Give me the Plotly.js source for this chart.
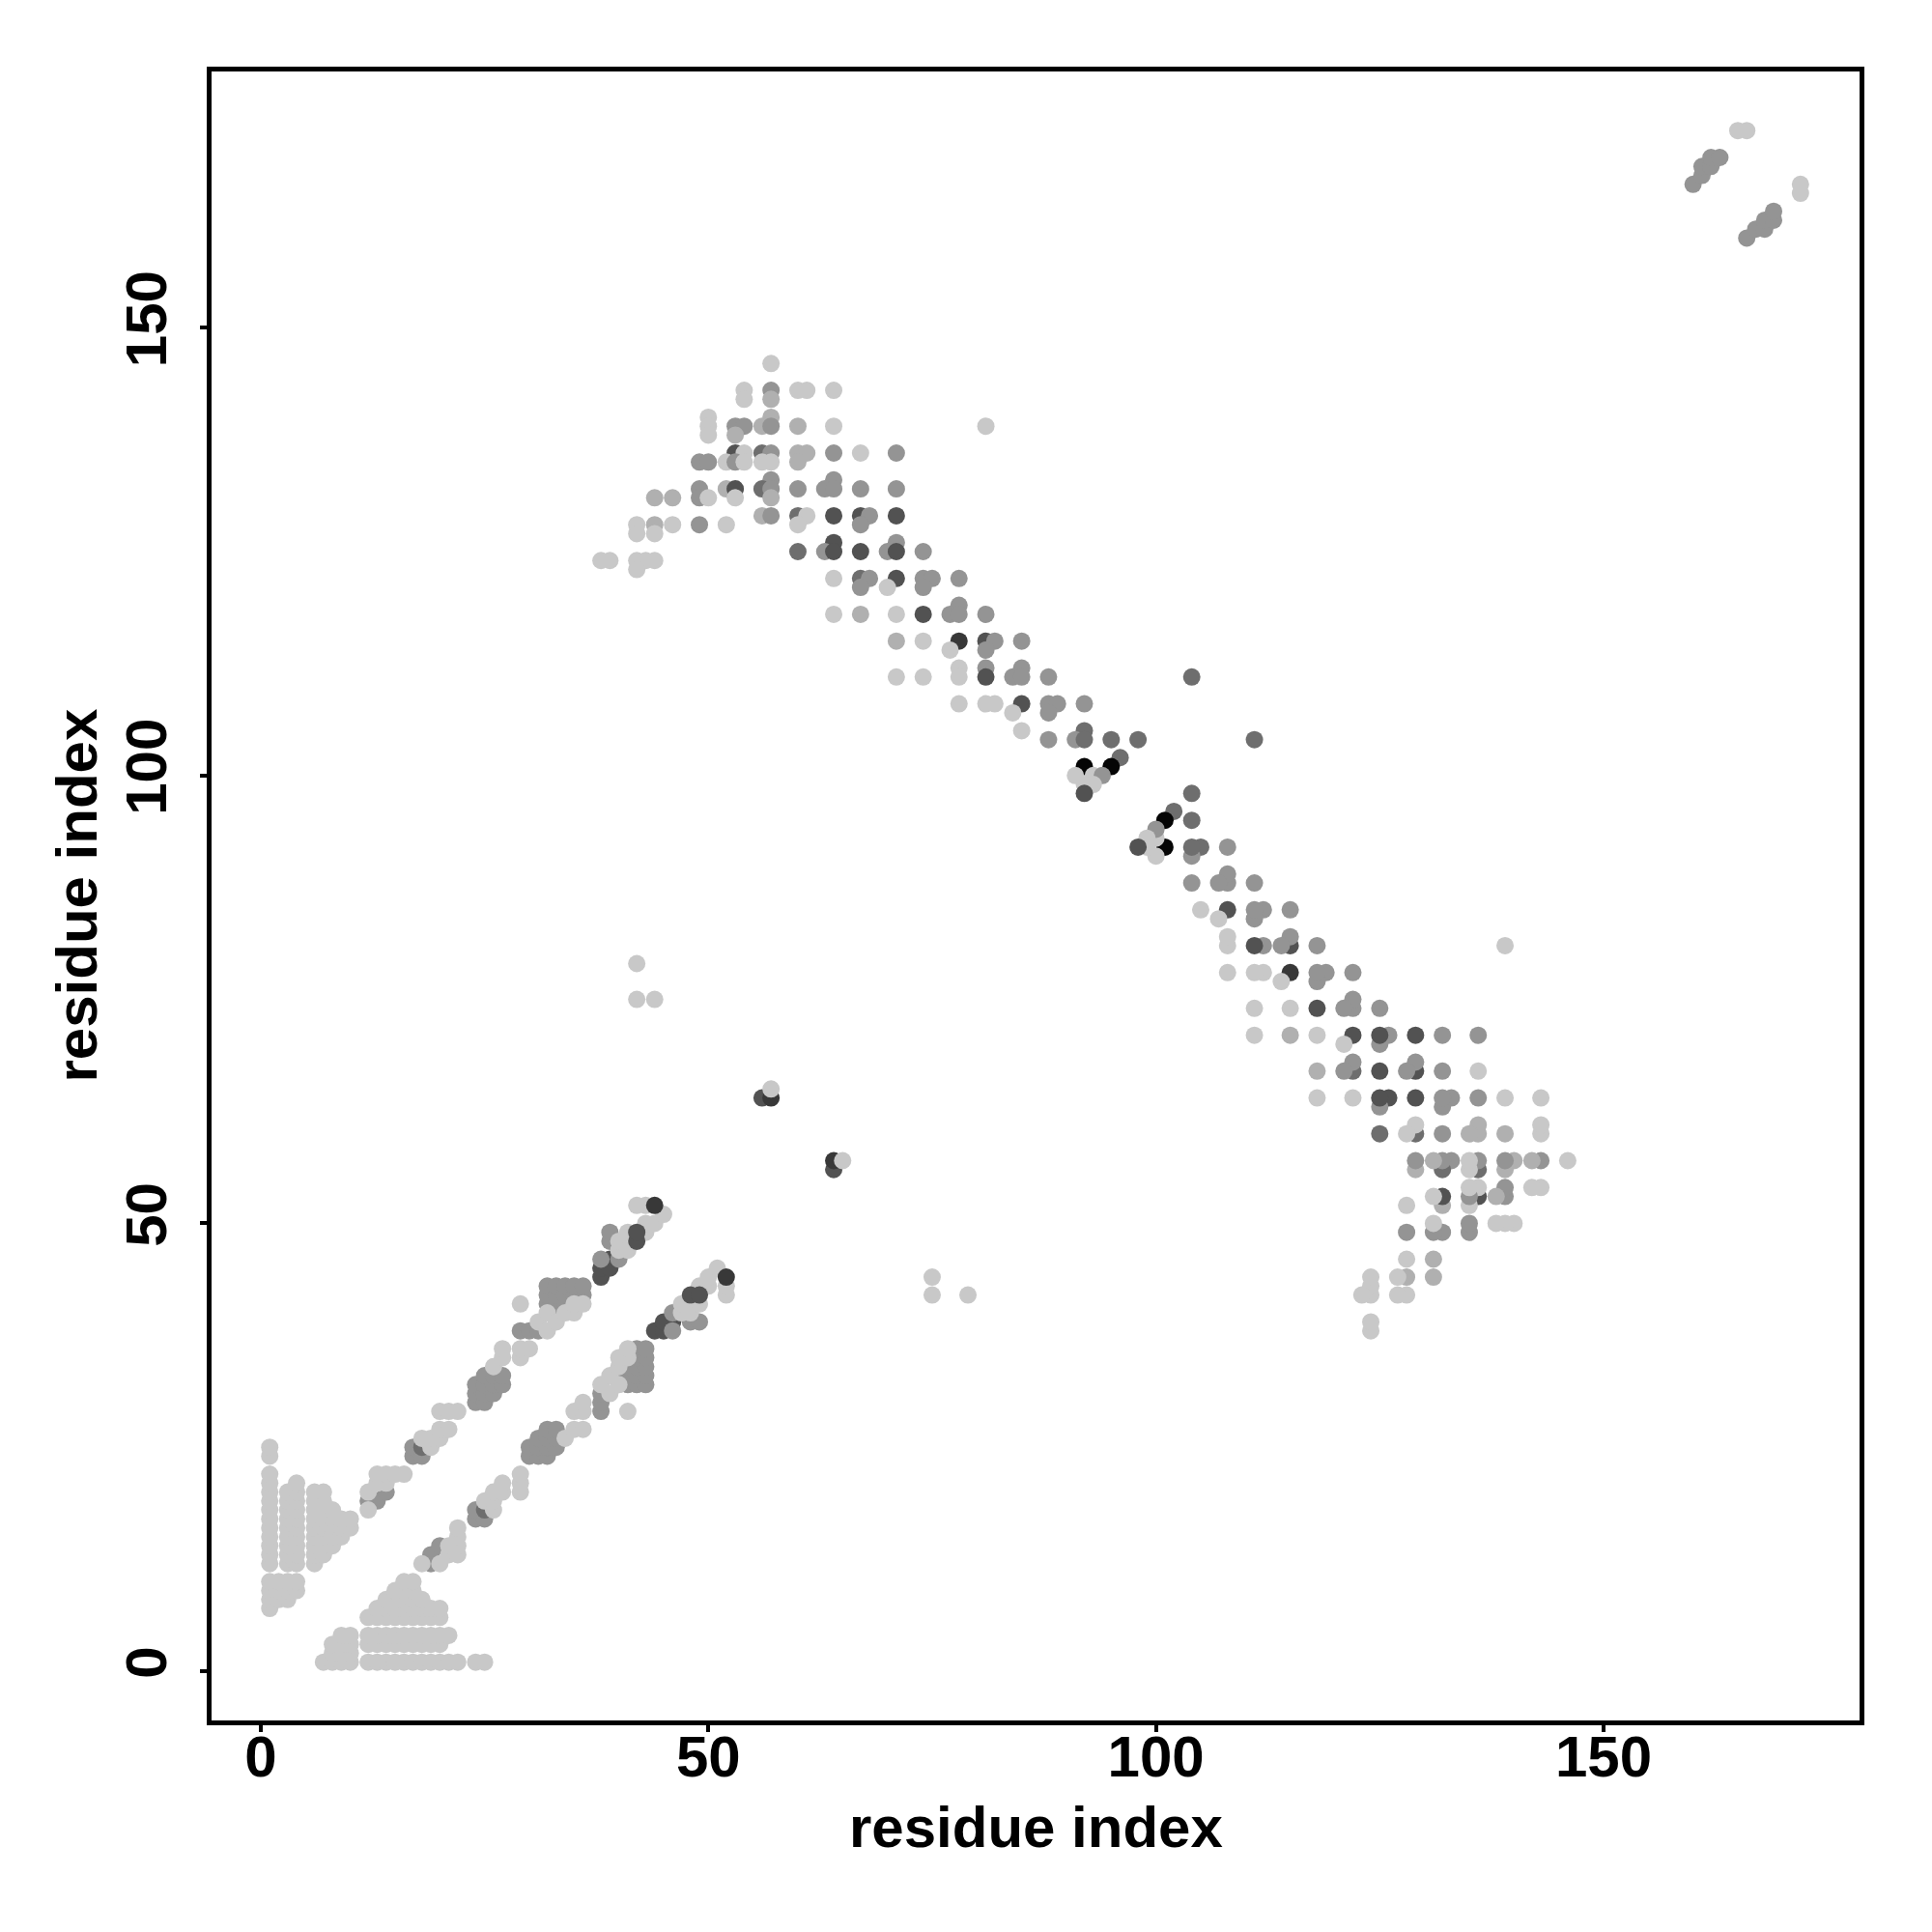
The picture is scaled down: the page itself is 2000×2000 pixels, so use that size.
<!DOCTYPE html>
<html>
<head>
<meta charset="utf-8">
<script src="https://cdn.plot.ly/plotly-3.0.1.min.js"></script>
<style>html,body{margin:0;padding:0;background:#fff;}</style>
</head>
<body>
<div id="chart" style="width:2000px;height:2000px;"></div>
<script>
// Contact map: each contact (i, j) with i < j, and its grey level (1 = faint ... 7 = strongest).
// The map is symmetric, so every contact is also drawn at (j, i).

// Light triangular cluster near the N-terminus
const blobI = [1,1,1,1,1,1,1,1,1,1,1,1,1,1,1,1,1, 2,2,2,
  3,3,3,3,3,3,3,3,3,3,3,3, 4,4,4,4,4,4,4,4,4,4,4,4,
  6,6,6,6,6,6,6,6,6, 7,7,7,7,7,7,7,7, 8,8,8,8,8, 9,9,9, 10,10];
const blobJ = [7,8,9,10,12,13,14,15,16,17,18,19,20,21,22,24,25, 8,9,10,
  8,9,10,12,13,14,15,16,17,18,19,20, 9,10,12,13,14,15,16,17,18,19,20,21,
  12,13,14,15,16,17,18,19,20, 13,14,15,16,17,18,19,20, 14,15,16,17,18, 15,16,17, 16,17];
const blobLevel = [1,1,1,1,1,1,1,1,1,1,1,1,1,1,1,1,1, 1,1,1,
  1,1,1,1,1,1,1,1,1,1,1,1, 1,1,1,1,1,1,1,1,1,1,1,1,
  1,1,1,1,1,1,1,1,1, 1,1,1,1,1,1,1,1, 1,1,1,1,1, 1,1,1, 1,1];

// Band running parallel to the diagonal (i, i+7)
const bandI = [12,13,14, 12,12,13,14,13,14,15,16, 17,17,18,18, 18,19,19,20,20,21, 20,21,22,
  24,24,24,25,25,25,25,26,26,26,27,27, 26,27,27,29,29,30, 29,30,31, 29,31,32,
  32,32,32,33,33,33,33,34,34,34,35,35,36,36, 32,33,34,35,35,36,
  38,38,39,39, 38,40,39,39, 40,40,41,41,43,43,44,45,42,43, 42,42, 44];
const bandJ = [19,19,20, 18,20,21,21,22,22,22,22, 24,25,24,25, 26,25,26,26,27,27, 29,29,29,
  30,31,32,30,31,32,33,31,32,33,32,33, 34,35,36,35,36,36, 38,38,38, 41,39,38,
  41,42,43,40,41,42,43,41,42,43,42,43,42,43, 40,39,40,40,41,41,
  44,45,46,45, 46,46,48,49, 47,48,47,49,49,50,50,51,52,52, 48,49, 52];
const bandLevel = [3,3,3, 1,1,1,1,1,1,1,1, 3,3,3,4, 1,1,1,1,1,1, 1,1,1,
  3,3,3,3,3,3,3,3,3,3,3,3, 1,1,1,1,1,1, 3,3,3, 1,1,1,
  3,3,3,3,3,3,3,3,3,3,3,3,3,3, 1,1,1,1,1,1,
  5,5,5,5, 3,3,3,3, 1,1,1,1,1,1,1,1,1,1, 5,5, 6];

// Antiparallel band (rows of j, from top to bottom)
const antiI = [57,
  54,57,60,61,64, 54,57, 50,57,
  50,53,54,56,57,60,64, 50,53,
  53,54,56,57,60,61,64,67,71,
  49,50,52,53,54,56,57,60, 57,64,
  49,52,53,56,57,60,63,64,67,71,
  44,46,49,50,53,57,
  56,57,60,61,64,67,68,71,
  42,44,46,49,52,60,67, 42,44, 64,71,
  60,63,64,67,70,71,74,
  38,39,42,43,44, 42,
  64,67,68,71,74,75,78, 67,70,74, 78,
  64,67,71,74,77,78,81,
  71,74,78,81,82,85, 77,81, 78,81,85,
  71,74,78,81,84,85,88,
  78,81,82,85,88,89,92, 84,88, 85,92,
  88,91,92,95,98, 96, 92,95, 91,93,94, 92,93, 92];
const antiJ = [146,
  143,143,143,143,143, 142,142, 140,140,
  139,139,139,139,139,139,139, 138,138,
  136,136,136,136,136,136,136,136,136,
  135,135,135,135,135,135,135,135, 133,133,
  132,132,132,132,132,132,132,132,132,132,
  131,131,131,131,131,131,
  129,129,129,129,129,129,129,129,
  128,128,128,128,128,128,128, 127,127, 126,126,
  125,125,125,125,125,125,125,
  124,124,124,124,124, 123,
  122,122,122,122,122,122,122, 121,121,121, 119,
  118,118,118,118,118,118,118,
  115,115,115,115,115,115, 114,114, 112,112,112,
  111,111,111,111,111,111,111,
  108,108,108,108,108,108,108, 107,107, 105,105,
  104,104,104,104,104, 102, 101,101, 100,100,100, 99,99, 98];
const antiLevel = [1,
  1,3,1,1,1, 1,2, 1,2,
  1,3,3,2,3,2,1, 1,2,
  5,1,4,3,2,2,3,1,3,
  3,3,1,3,1,1,1,2, 3,3,
  3,2,5,4,3,3,3,3,3,3,
  2,2,3,1,1,2,
  2,3,4,1,5,5,3,5,
  1,2,1,3,1,1,3, 1,1, 5,3,
  4,3,5,5,3,5,3,
  1,1,1,1,1, 1,
  1,4,3,5,3,3,3, 3,1,3, 3,
  1,2,1,5,3,3,3,
  2,1,6,5,3,3, 1,3, 1,3,3,
  1,1,1,5,3,3,3,
  1,1,1,5,3,3,3, 1,3, 1,4,
  3,3,4,4,4, 4, 7,7, 1,1,3, 1,1, 5];

// Isolated contacts and the C-terminal hairpin
const isoI = [42,42,44, 56,57,57, 81, 104, 160,161,161,162,162,163, 165,166];
const isoJ = [75,79,75, 64,64,65, 139, 111, 166,167,168,168,169,169, 172,172];
const isoLevel = [1,1,1, 5,6,1, 1, 4, 3,3,3,3,3,3, 1,1];

const greyLevels = ['#ffffff', '#c8c8c8', '#b0b0b0', '#949494', '#6e6e6e', '#525252', '#383838', '#050505'];
const tickValues = [0, 50, 100, 150];
const axisTitle = 'residue index';

const groups = [[blobI, blobJ, blobLevel], [bandI, bandJ, bandLevel], [antiI, antiJ, antiLevel], [isoI, isoJ, isoLevel]];
const xs = [], ys = [], cols = [];
groups.forEach(function (g) {
  const I = g[0], J = g[1], L = g[2];
  I.forEach(function (i, k) {
    xs.push(i); ys.push(J[k]); cols.push(greyLevels[L[k]]);
    xs.push(J[k]); ys.push(i); cols.push(greyLevels[L[k]]);
  });
});

const fontFamily = 'Liberation Sans, Arial, Helvetica, sans-serif';
const boldFont = {family: fontFamily, size: 60, color: '#000', weight: 'bold'};
const trace = {
  type: 'scatter', mode: 'markers', x: xs, y: ys,
  marker: {size: 18, color: cols, line: {width: 0}},
  hoverinfo: 'x+y', showlegend: false
};

function axis(extra) {
  return Object.assign({
    range: [-5.5, 178.6], autorange: false,
    tickmode: 'array', tickvals: tickValues, ticktext: tickValues.map(String),
    ticks: 'outside', ticklen: 7, tickwidth: 4, tickcolor: '#000',
    showline: true, linewidth: 5, linecolor: '#000', mirror: true,
    showgrid: false, zeroline: false,
    tickfont: boldFont
  }, extra);
}

const layout = {
  width: 2000, height: 2000,
  margin: {l: 219, r: 75, t: 74, b: 219},
  paper_bgcolor: '#fff', plot_bgcolor: '#fff',
  xaxis: axis({ticklabelstandoff: -26}),
  yaxis: axis({tickangle: -90, ticklabelstandoff: 11}),
  annotations: [
    {text: axisTitle, xref: 'paper', yref: 'paper', x: 0.5, y: (1781 - 1891) / 1707,
     xanchor: 'center', yanchor: 'middle', showarrow: false, font: boldFont},
    {text: axisTitle, xref: 'paper', yref: 'paper', x: (79 - 219) / 1706, y: 0.5, textangle: -90,
     xanchor: 'center', yanchor: 'middle', showarrow: false, font: boldFont}
  ]
};

Plotly.newPlot('chart', [trace], layout, {staticPlot: true, displayModeBar: false});
</script>
</body>
</html>
